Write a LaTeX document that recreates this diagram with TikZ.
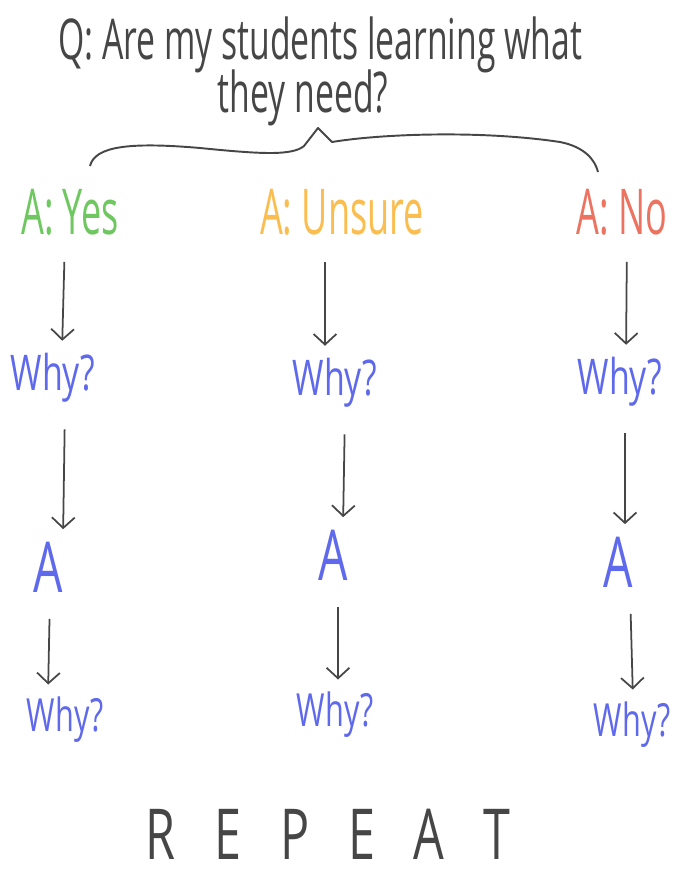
\documentclass[tikz,border=0pt]{standalone}
\usepackage{fontspec}
\setmainfont{Open Sans}
\usetikzlibrary{arrows.meta}
\definecolor{ink}{RGB}{70,70,70}
\definecolor{yescol}{RGB}{110,200,95}
\definecolor{unsurecol}{RGB}{250,190,80}
\definecolor{nocol}{RGB}{235,115,95}
\definecolor{whycol}{RGB}{95,105,235}

\begin{document}
\begin{tikzpicture}[
  x=0.02cm, y=-0.02cm,
  every node/.style={inner sep=1pt},
  hand/.style={font=\fontsize{#1}{#1}\selectfont, xscale=0.6},
  question/.style={hand=32, text=ink},
  answer/.style={hand=36, xscale=0.95},
  why/.style={hand=28, text=whycol, xscale=1.15},
  whylast/.style={hand=26, text=whycol, xscale=1.12},
  again/.style={hand=40, text=whycol, xscale=1.1},
  arr/.style={draw=ink, line width=1pt, -{Straight Barb[length=6pt,width=13pt]},
    shorten <=14pt, shorten >=6pt}
]
\useasboundingbox (0,0) rectangle (678,875);

% question and its brace
\node[question] (q1) at (320,45) {Q: Are my students learning what};
\node[question] (q2) at (303,98) {they need?};
\draw[ink, line width=1.1pt, line join=round]
  (90,166) .. controls (95,146) and (130,142) .. (200,148)
  .. controls (260,154) and (292,156) .. (304,146) -- (318,128) -- (332,142)
  .. controls (380,134) and (480,130) .. (560,142)
  .. controls (585,147) and (595,160) .. (598,172);

% the three answers
\node[answer, text=yescol] (yes) at (70,212) {A: Yes};
\node[answer, text=unsurecol] (unsure) at (342,212) {A: Unsure};
\node[answer, text=nocol] (no) at (622,212) {A: No};

% why, answer, why
\node[why] (why1) at (53,378) {Why?};
\node[why] (why2) at (335,383) {Why?};
\node[why] (why3) at (620,382) {Why?};
\node[again] (a1) at (48,567) {A};
\node[again] (a2) at (333,555) {A};
\node[again] (a3) at (618,562) {A};
\node[whylast] (whyb1) at (65,720) {Why?};
\node[whylast] (whyb2) at (335,715) {Why?};
\node[whylast] (whyb3) at (632,725) {Why?};

\foreach \s/\sx/\t/\tx in {yes/-5/why1/9, why1/12/a1/15, a1/2/whyb1/-17,
    unsure/-17/why2/-10, why2/10/a2/10, a2/5/whyb2/3,
    no/5/why3/6, why3/5/a3/7, a3/12/whyb3/1}
  \draw[arr] ([shift={(\sx,0)}]\s.south) -- ([shift={(\tx,0)}]\t.north);

\node[hand=40, text=ink, xscale=1.15] (rep) at (328,834) {\spaceskip=0.8em R E P E A T};
\end{tikzpicture}
\end{document}
